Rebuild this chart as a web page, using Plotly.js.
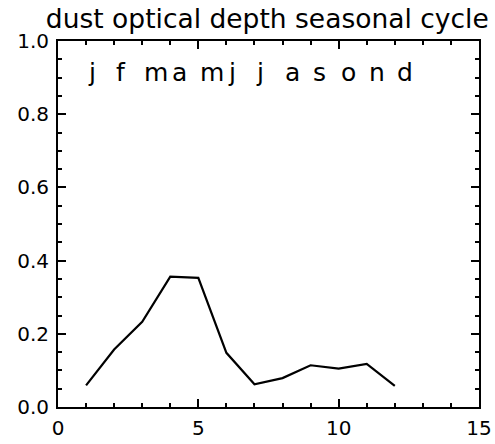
<!DOCTYPE html>
<html><head><meta charset="utf-8">
<script src="https://cdn.plot.ly/plotly-3.0.1.min.js"></script>
<style>html,body{margin:0;padding:0;background:#fff}#chart{width:495px;height:444px}</style>
</head><body><div id="chart"></div>
<script>
const months = [1,2,3,4,5,6,7,8,9,10,11,12];
const dustOpticalDepth = [0.059,0.157,0.233,0.356,0.353,0.148,0.062,0.079,0.114,0.105,0.118,0.058];
const monthLetters = ["j","f","m","a","m","j","j","a","s","o","n","d"];
const titleText = "dust optical depth seasonal cycle";
const xTickVals = [0,5,10,15];
const yTickVals = [0,0.2,0.4,0.6,0.8,1.0];

const font = "DejaVu Sans, Verdana, sans-serif";
const annotations = monthLetters.map((t, i) => ({
  text: t, xref: 'x', yref: 'y', x: months[i], y: 0.915,
  xanchor: 'left', yanchor: 'middle', showarrow: false,
  font: {family: font, size: 25, color: '#000'}
}));

Plotly.newPlot('chart', [{
  x: months, y: dustOpticalDepth, type: 'scatter', mode: 'lines',
  line: {color: '#000', width: 2.2}, hoverinfo: 'skip'
}], {
  width: 495, height: 444,
  margin: {l: 58, r: 16, t: 41, b: 37, pad: 0},
  paper_bgcolor: '#fff', plot_bgcolor: '#fff',
  showlegend: false,
  title: {text: titleText, font: {family: font, size: 26.5, color: '#000'}, xref: 'container', x: 0.54, xanchor: 'center', yref: 'container', y: 0.978, yanchor: 'top'},
  xaxis: {range: [0, 15], tickvals: xTickVals, ticks: 'inside', ticklen: 8, tickwidth: 2, tickcolor: '#000',
    minor: {dtick: 1, ticks: 'inside', ticklen: 4, tickwidth: 2, tickcolor: '#000', showgrid: false},
    showline: true, linewidth: 2, linecolor: '#000', mirror: 'allticks', showgrid: false, zeroline: false,
    ticklabelstandoff: 2,
    tickfont: {family: font, size: 20, color: '#000'}},
  yaxis: {range: [0, 1], tickvals: yTickVals, tickformat: '.1f', ticks: 'inside', ticklen: 8, tickwidth: 2, tickcolor: '#000',
    minor: {dtick: 0.05, ticks: 'inside', ticklen: 4, tickwidth: 2, tickcolor: '#000', showgrid: false},
    showline: true, linewidth: 2, linecolor: '#000', mirror: 'allticks', showgrid: false, zeroline: false,
    ticklabelstandoff: 3,
    tickfont: {family: font, size: 20, color: '#000'}},
  annotations: annotations
}, {staticPlot: true});
</script></body></html>
